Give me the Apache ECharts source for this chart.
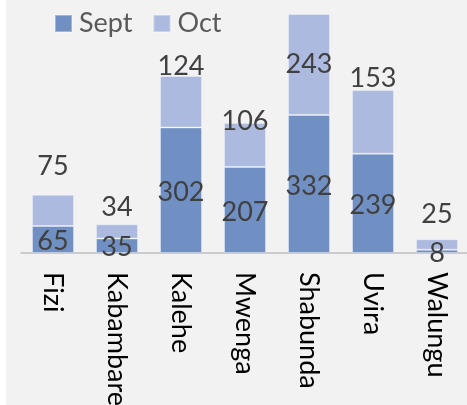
<!DOCTYPE html>
<html>
<head>
<meta charset="utf-8">
<script src="https://cdn.jsdelivr.net/npm/echarts@6/dist/echarts.min.js"></script>
<style>
  html, body { margin: 0; padding: 0; }
  body { background: linear-gradient(to right, #ffffff 6px, #f2f2f2 6px); }
  #chart { width: 467px; height: 405px; }
</style>
</head>
<body>
<div id="chart"></div>
<script>
  // district names and monthly counts
  const categories = ['Fizi', 'Kabambare', 'Kalehe', 'Mwenga', 'Shabunda', 'Uvira', 'Walungu']
  const sept = [65, 35, 302, 207, 332, 239, 8]
  const oct = [75, 34, 124, 106, 243, 153, 25]

  // gap between top of bar and the Oct label (labels were hand placed), null = centred inside
  const octLabelDistance = [15, 4, -4, -12, null, -2, 11]

  const font = 'Lato, "Open Sans", sans-serif'
  const fs = 27

  const chart = echarts.init(document.getElementById('chart'))

  const octData = oct.map((v, i) => {
    const d = octLabelDistance[i]
    if (d === null) {
      return { value: v, label: { position: 'inside' } }
    }
    return { value: v, label: { position: 'top', distance: d } }
  })

  chart.setOption({
    backgroundColor: 'transparent',
    animation: false,
    legend: {
      left: 54,
      top: 10,
      padding: 0,
      icon: 'rect',
      itemWidth: 17,
      itemHeight: 17,
      itemGap: 20,
      textStyle: { fontFamily: font, fontSize: fs, color: '#595959', padding: [0, 0, 0, 2] },
      data: ['Sept', 'Oct']
    },
    grid: {
      left: 21,
      top: 14,
      width: 448,
      height: 239,
      containLabel: false,
      outerBoundsMode: 'none'
    },
    xAxis: {
      type: 'category',
      data: categories,
      axisLine: { lineStyle: { color: '#bfbfbf', width: 1.5 } },
      axisTick: { show: false },
      axisLabel: {
        interval: 0,
        rotate: -90,
        margin: 19,
        fontFamily: font,
        fontSize: fs,
        color: '#000000'
      }
    },
    yAxis: {
      type: 'value',
      min: 0,
      max: 575,
      show: false,
      splitLine: { show: false }
    },
    series: [
      {
        name: 'Sept',
        type: 'bar',
        stack: 'total',
        barWidth: 42,
        data: sept,
        itemStyle: { color: '#7090c4', borderColor: 'rgba(255,255,255,0.35)', borderWidth: 1 },
        label: {
          show: true,
          position: 'inside',
          offset: [0, 2],
          fontFamily: font,
          fontSize: fs,
          color: '#404040'
        }
      },
      {
        name: 'Oct',
        type: 'bar',
        stack: 'total',
        barWidth: 42,
        data: octData,
        itemStyle: { color: '#abbade', borderColor: 'rgba(255,255,255,0.35)', borderWidth: 1 },
        label: {
          show: true,
          fontFamily: font,
          fontSize: fs,
          color: '#404040'
        }
      }
    ]
  })
</script>
</body>
</html>
